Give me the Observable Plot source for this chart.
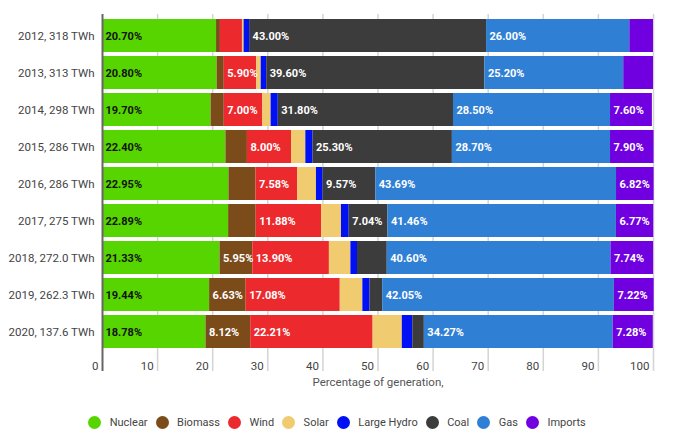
<!DOCTYPE html>
<html>
<head>
<meta charset="utf-8">
<script src="https://cdn.jsdelivr.net/npm/d3@7"></script>
<script src="https://cdn.jsdelivr.net/npm/@observablehq/plot@0.6"></script>
<style>
  body { margin: 0; background: #fff; font-family: Roboto, sans-serif; }
  #legend { display: flex; justify-content: center; align-items: center; margin-top: 15px; height: 14px; font-size: 11px; color: #444; padding-right: 6px; }
  .item { display: flex; align-items: center; margin: 0 4px; }
  .dot { width: 13px; height: 13px; border-radius: 50%; margin-right: 8.5px; }
</style>
</head>
<body>
<div id="chart"></div>
<div id="legend"></div>
<script>
const categories = ["2012, 318 TWh", "2013, 313 TWh", "2014, 298 TWh", "2015, 286 TWh", "2016, 286 TWh", "2017, 275 TWh", "2018, 272.0 TWh", "2019, 262.3 TWh", "2020, 137.6 TWh"];
const seriesNames = ["Nuclear", "Biomass", "Wind", "Solar", "Large Hydro", "Coal", "Gas", "Imports"];
const colors = ["#57d500", "#7c4b1a", "#ec2a2d", "#f0cb6f", "#0010f5", "#3c3c3c", "#2f80d5", "#7000e0"];

const nuclear    = [20.70, 20.80, 19.70, 22.40, 22.95, 22.89, 21.33, 19.44, 18.78];
const biomass    = [0.7, 1.3, 2.4, 3.9, 4.9, 5.0, 5.95, 6.63, 8.12];
const wind       = [4.0, 5.90, 7.00, 8.00, 7.58, 11.88, 13.90, 17.08, 22.21];
const solar      = [0.3, 0.8, 1.5, 2.6, 3.4, 3.6, 3.9, 4.1, 5.3];
const largeHydro = [1.0, 1.0, 1.3, 1.3, 1.2, 1.4, 1.2, 1.3, 1.9];
const coal       = [43.00, 39.60, 31.80, 25.30, 9.57, 7.04, 5.4, 2.3, 2.1];
const gas        = [26.00, 25.20, 28.50, 28.70, 43.69, 41.46, 40.60, 42.05, 34.27];
const imports    = [4.3, 5.4, 7.60, 7.90, 6.82, 6.77, 7.74, 7.22, 7.28];

const xTicks = [0, 10, 20, 30, 40, 50, 60, 70, 80, 90, 100];
const xLabel = "Percentage of generation,";
const labelMin = 5.85;

const seriesValues = [nuclear, biomass, wind, solar, largeHydro, coal, gas, imports];
const data = [];
categories.forEach((c, i) => {
  seriesNames.forEach((s, j) => {
    data.push({cat: c, series: s, value: seriesValues[j][i]});
  });
});

const chart = Plot.plot({
  width: 680,
  height: 400,
  marginLeft: 102,
  marginRight: 27,
  marginTop: 14,
  marginBottom: 46,
  style: {fontFamily: "Roboto, sans-serif", fontSize: "11.5px", color: "#444"},
  x: {domain: [0, 100]},
  y: {domain: categories, padding: 0.1},
  color: {domain: seriesNames, range: colors},
  marks: [
    Plot.ruleX(xTicks.slice(1), {stroke: "#d4d4d4", strokeWidth: 1.5, insetBottom: -17}),
    Plot.barX(data, Plot.stackX({x: "value", y: "cat", z: "series", fill: "series", order: null})),
    Plot.text(data, Plot.stackX1({
      x: "value", y: "cat", z: "series", order: null,
      text: d => d.value >= labelMin ? d.value.toFixed(2) + "%" : null,
      textAnchor: "start", dx: 3, fontSize: 11, fontWeight: 700,
      fill: d => d.series === "Nuclear" ? "#111" : "#fff"
    })),
    Plot.ruleX([0], {stroke: "#666", strokeWidth: 2, insetBottom: -17}),
    Plot.axisY({tickSize: 0, tickPadding: 8, label: null, fill: "#444"}),
    Plot.axisX({ticks: xTicks, tickSize: 0, tickPadding: 7, textAnchor: "end", dx: -4, label: null, fill: "#444", tickFormat: d => String(d)}),
    Plot.text([xLabel], {frameAnchor: "bottom", dy: 31, fill: "#555", fontSize: 11.5})
  ]
});
document.getElementById("chart").appendChild(chart);

const legend = document.getElementById("legend");
seriesNames.forEach((s, j) => {
  const item = document.createElement("div");
  item.className = "item";
  const dot = document.createElement("span");
  dot.className = "dot";
  dot.style.background = colors[j];
  const t = document.createElement("span");
  t.textContent = s;
  item.appendChild(dot);
  item.appendChild(t);
  legend.appendChild(item);
});
</script>
</body>
</html>
